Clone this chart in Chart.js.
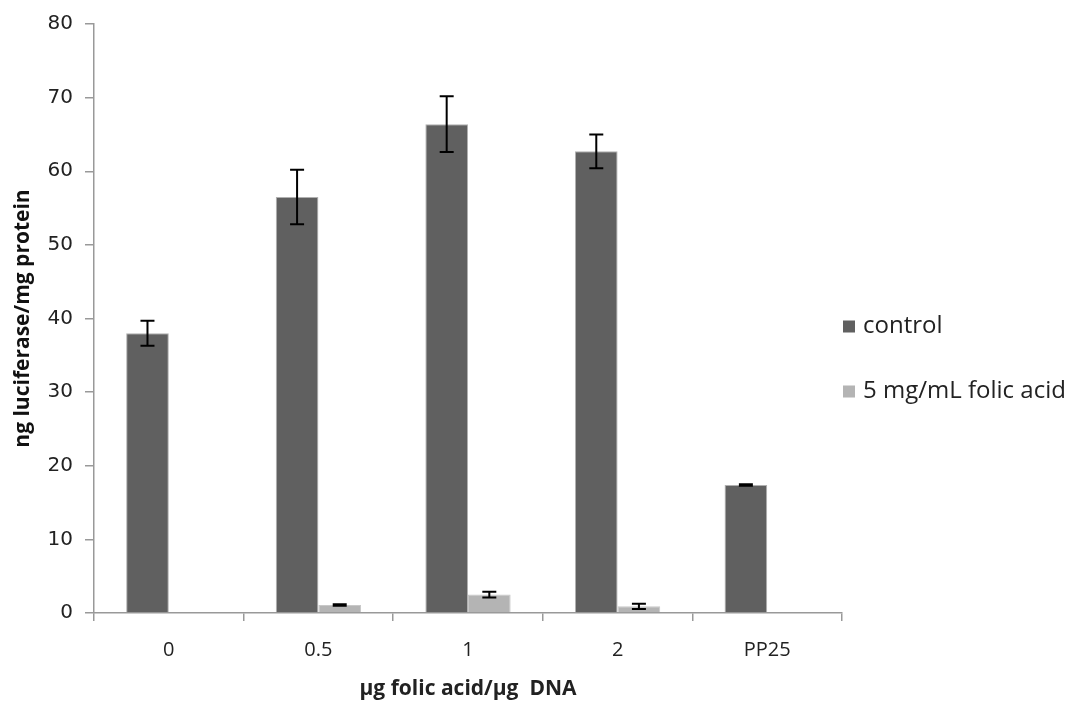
<!DOCTYPE html>
<html>
<head>
<meta charset="utf-8">
<script src="https://cdn.jsdelivr.net/npm/chart.js@4.4.1/dist/chart.umd.min.js"></script>
<style>
  html, body { margin: 0; padding: 0; background: #fff; }
  #wrap { width: 1080px; height: 706px; }
</style>
</head>
<body>
<div id="wrap"><canvas id="chart" width="1080" height="706"></canvas></div>
<script>
// data
const categories = ['0', '0.5', '1', '2', 'PP25'];
const controlValues = [38.0, 56.5, 66.4, 62.7, 17.4];
const controlErrors = [1.7, 3.7, 3.8, 2.3, 0.1];
const folicValues = [0, 1.1, 2.5, 0.9, 0];
const folicErrors = [0, 0.1, 0.4, 0.35, 0];
const yTicks = [0, 10, 20, 30, 40, 50, 60, 70, 80];

const axisGray = '#999999';
const textDark = '#222222';

// black error bars on top of each bar
const errorBars = {
    id: 'errorBars',
    afterDatasetsDraw(chart) {
        const ctx = chart.ctx;
        const y = chart.scales.y;
        const errs = [controlErrors, folicErrors];
        ctx.save();
        ctx.strokeStyle = '#000';
        ctx.lineWidth = 2;
        chart.data.datasets.forEach((ds, i) => {
            const meta = chart.getDatasetMeta(i);
            meta.data.forEach((bar, j) => {
                const e = errs[i][j];
                if (!e) return;
                const v = ds.data[j];
                const yTop = y.getPixelForValue(v + e);
                const yBot = y.getPixelForValue(v - e);
                const half = 7;
                ctx.beginPath();
                ctx.moveTo(bar.x, yTop);
                ctx.lineTo(bar.x, yBot);
                ctx.moveTo(bar.x - half, yTop);
                ctx.lineTo(bar.x + half, yTop);
                ctx.moveTo(bar.x - half, yBot);
                ctx.lineTo(bar.x + half, yBot);
                ctx.stroke();
            });
        });
        ctx.restore();
    }
};

// legend on the right, spaced like the original (built-in one ties spacing to width)
const sideLegend = {
    id: 'sideLegend',
    afterDraw(chart) {
        const ctx = chart.ctx;
        const area = chart.chartArea;
        const x0 = area.right + 1;
        let yc = (area.top + area.bottom) / 2 + 8;
        ctx.save();
        ctx.font = '24px "Open Sans"';
        ctx.textBaseline = 'middle';
        chart.data.datasets.forEach(ds => {
            ctx.fillStyle = ds.backgroundColor;
            ctx.fillRect(x0, yc - 6, 12, 12);
            ctx.fillStyle = textDark;
            ctx.fillText(ds.label, x0 + 20, yc);
            yc += 65;
        });
        ctx.restore();
    }
};

const ctx = document.getElementById('chart').getContext('2d');
new Chart(ctx, {
    type: 'bar',
    data: {
        labels: categories,
        datasets: [
            {
                label: 'control',
                data: controlValues,
                backgroundColor: '#606060',
                borderColor: '#b0b0b0',
                borderWidth: 1
            },
            {
                label: '5 mg/mL folic acid',
                data: folicValues,
                backgroundColor: '#b4b4b4',
                borderColor: '#c8c8c8',
                borderWidth: 1
            }
        ]
    },
    options: {
        responsive: false,
        animation: false,
        layout: { padding: { left: 6, top: 10, right: 238, bottom: 2 } },
        categoryPercentage: 0.57,
        barPercentage: 1.0,
        scales: {
            x: {
                grid: {
                    display: true,
                    drawOnChartArea: false,
                    drawTicks: true,
                    tickLength: 8,
                    color: axisGray,
                    lineWidth: 1.5
                },
                border: { color: axisGray, width: 1.5 },
                ticks: {
                    color: textDark,
                    padding: 17,
                    font: { family: 'Open Sans', size: 20 }
                },
                title: {
                    display: true,
                    text: 'µg folic acid/µg  DNA',
                    color: textDark,
                    padding: { top: 2, bottom: 2 },
                    font: { family: 'Open Sans', size: 21, weight: 'bold' }
                },
                afterFit(scale) { scale.height = 91; }
            },
            y: {
                min: 0,
                max: 80,
                afterBuildTicks(scale) { scale.ticks = yTicks.map(v => ({ value: v })); },
                grid: {
                    display: true,
                    drawOnChartArea: false,
                    drawTicks: true,
                    tickLength: 9,
                    color: axisGray,
                    lineWidth: 1.5
                },
                border: { color: axisGray, width: 1.5 },
                ticks: {
                    color: textDark,
                    padding: 12,
                    font: { family: 'DejaVu Sans', size: 20 }
                },
                title: {
                    display: true,
                    text: 'ng luciferase/mg protein',
                    color: '#111',
                    padding: { top: 4, bottom: 4 },
                    font: { family: 'Open Sans', size: 21, weight: 'bold' }
                },
                afterFit(scale) { scale.width = 88; }
            }
        },
        plugins: {
            legend: { display: false },
            tooltip: { enabled: false }
        }
    },
    plugins: [errorBars, sideLegend]
});
</script>
</body>
</html>
